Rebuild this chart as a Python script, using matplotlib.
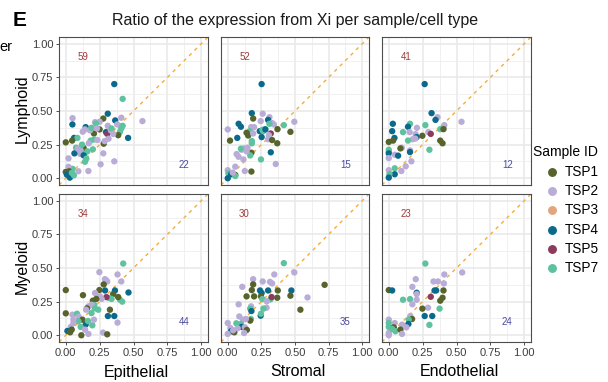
import numpy as np
import matplotlib
matplotlib.use("Agg")
import matplotlib.pyplot as plt

plt.rcParams['font.family'] = ['Liberation Sans', 'DejaVu Sans']

# --- data ---
sample_names = ['TSP1', 'TSP2', 'TSP3', 'TSP4', 'TSP5', 'TSP7']
sample_colors = ['#56632b', '#b9add7', '#e3a57b', '#0b6a8b', '#8d3b5c', '#5ec29f']

col_names = ['Epithelial', 'Stromal', 'Endothelial']
row_names = ['Lymphoid', 'Myeloid']
n_above = [[59, 52, 41], [34, 30, 23]]
n_below = [[22, 15, 12], [44, 35, 24]]

# Lymphoid / Epithelial
lym_epi_x = [0.358, 0.42, 0.31, 0.277, 0.05, 0.049, 0.147, 0.365, 0.41, 0.566, 0.216, 0.25, 0.223,
             0.31, 0.38, 0.42, 0.41, 0.40, 0.387, 0.46, 0.297, 0.306, 0.316, 0.333, 0.338, 0.25, 0.208,
             0.179, 0.19, 0.125, 0.142, 0.061, 0.086, 0.047, 0.0, 0.184, 0.21, 0.233, 0.28, 0.287, 0.076,
             0.096, 0.132, 0.11, 0.16, 0.2, 0.108, 0.064, 0.137, 0.132, 0.152, 0.142, 0.02, 0.277, 0.358,
             0.257, 0.167, 0.05, 0.02, 0.0, 0.025, 0.03, 0.06, 0.093, 0.008, 0.045, 0.09, 0.23, 0.35,
             0.12, 0.17]
lym_epi_y = [0.70, 0.59, 0.48, 0.444, 0.447, 0.40, 0.38, 0.43, 0.45, 0.425, 0.417, 0.42, 0.407,
             0.39, 0.40, 0.39, 0.37, 0.345, 0.32, 0.30, 0.343, 0.33, 0.294, 0.356, 0.37, 0.363, 0.333,
             0.356, 0.375, 0.346, 0.363, 0.30, 0.30, 0.28, 0.267, 0.28, 0.289, 0.284, 0.257, 0.276, 0.227,
             0.22, 0.225, 0.207, 0.20, 0.215, 0.18, 0.185, 0.18, 0.17, 0.146, 0.123, 0.148, 0.185, 0.126,
             0.104, 0.054, 0.07, 0.085, 0.047, 0.052, 0.005, 0.022, 0.052, 0.027, 0.04, 0.22, 0.37, 0.33,
             0.25, 0.26]
lym_epi_id = [4, 7, 4, 1, 2, 4, 4, 4, 2, 2, 2, 2, 7,
              2, 2, 7, 7, 7, 1, 4, 4, 5, 2, 2, 7, 1, 1,
              2, 7, 2, 2, 4, 7, 1, 1, 7, 7, 2, 1, 2, 7,
              7, 1, 2, 7, 7, 2, 4, 7, 4, 7, 7, 2, 2, 2,
              2, 2, 7, 2, 1, 1, 4, 7, 2, 4, 7, 2, 2, 2,
              7, 2]

# Lymphoid / Stromal
lym_str_x = [0.252, 0.179, 0.26, 0.189, 0.31, 0.30, 0.245, 0.343, 0.33, 0.31, 0.081, 0.098, 0.0,
             0.417, 0.495, 0.37, 0.466, 0.174, 0.196, 0.164, 0.14, 0.152, 0.189, 0.238, 0.264, 0.277,
             0.258, 0.28, 0.32, 0.306, 0.252, 0.30, 0.33, 0.368, 0.071, 0.017, 0.179, 0.179, 0.122,
             0.103, 0.098, 0.066, 0.08, 0.117, 0.176, 0.167, 0.147, 0.32, 0.247, 0.357, 0.056, 0.0,
             0.005, 0.025, 0.056, 0.0, 0.056, 0.127, 0.176, 0.037, 0.14]
lym_str_y = [0.70, 0.484, 0.48, 0.444, 0.454, 0.434, 0.425, 0.40, 0.41, 0.405, 0.405, 0.383, 0.363,
             0.395, 0.42, 0.365, 0.345, 0.38, 0.38, 0.35, 0.338, 0.318, 0.333, 0.35, 0.35, 0.365,
             0.36, 0.363, 0.333, 0.32, 0.306, 0.29, 0.284, 0.26, 0.30, 0.28, 0.277, 0.26, 0.222,
             0.212, 0.22, 0.18, 0.16, 0.14, 0.19, 0.17, 0.227, 0.193, 0.14, 0.106, 0.086, 0.06,
             0.037, 0.03, 0.025, 0.0, 0.017, 0.054, 0.05, 0.042, 0.20]
lym_str_id = [4, 4, 2, 1, 2, 4, 2, 2, 2, 7, 4, 4, 2,
              7, 2, 1, 1, 2, 2, 7, 1, 1, 2, 4, 7, 7,
              7, 4, 5, 2, 4, 2, 1, 1, 4, 1, 7, 7, 2,
              2, 7, 2, 2, 2, 1, 7, 2, 4, 7, 2, 2, 2,
              7, 4, 1, 4, 7, 2, 1, 2, 2]

# Lymphoid / Endothelial
lym_end_x = [0.265, 0.316, 0.36, 0.345, 0.03, 0.157, 0.142, 0.208, 0.025, 0.105, 0.154, 0.198, 0.292,
             0.31, 0.27, 0.41, 0.405, 0.38, 0.404, 0.537, 0.248, 0.206, 0.176, 0.196, 0.142, 0.042,
             0.032, 0.0, 0.38, 0.397, 0.30, 0.096, 0.086, 0.157, 0.157, 0.0, 0.0, 0.0, 0.0, 0.044,
             0.069, 0.167, 0.125, 0.044, 0.093, 0.044, 0.0, 0.005, 0.0]
lym_end_y = [0.70, 0.484, 0.454, 0.434, 0.405, 0.405, 0.383, 0.375, 0.35, 0.343, 0.343, 0.328, 0.343,
             0.33, 0.395, 0.395, 0.383, 0.365, 0.365, 0.42, 0.316, 0.306, 0.29, 0.295, 0.28, 0.30,
             0.28, 0.27, 0.28, 0.26, 0.212, 0.227, 0.222, 0.207, 0.195, 0.212, 0.198, 0.185, 0.15, 0.175,
             0.168, 0.126, 0.089, 0.074, 0.054, 0.03, 0.06, 0.03, 0.005]
lym_end_id = [4, 4, 2, 4, 4, 7, 4, 2, 4, 7, 2, 2, 2,
              5, 7, 2, 2, 7, 1, 2, 1, 4, 2, 2, 7, 4,
              1, 1, 1, 1, 7, 2, 1, 2, 4, 7, 7, 4, 2, 2,
              4, 2, 2, 7, 2, 4, 2, 7, 4]

# Myeloid / Epithelial
mye_epi_x = [0.424, 0.248, 0.382, 0.289, 0.306, 0.296, 0.41, 0.28, 0.363, 0.29, 0.463, 0.0, 0.248,
             0.216, 0.35, 0.127, 0.2, 0.252, 0.318, 0.338, 0.4, 0.417, 0.387, 0.30, 0.265, 0.225,
             0.21, 0.167, 0.19, 0.157, 0.15, 0.216, 0.24, 0.19, 0.326, 0.311, 0.358, 0.382, 0.0,
             0.049, 0.083, 0.096, 0.123, 0.093, 0.147, 0.164, 0.196, 0.208, 0.11, 0.056, 0.037,
             0.044, 0.012, 0.142, 0.115, 0.167, 0.275, 0.306, 0.032, 0.056]
mye_epi_y = [0.533, 0.469, 0.452, 0.417, 0.40, 0.41, 0.40, 0.378, 0.333, 0.333, 0.318, 0.336, 0.336,
             0.314, 0.306, 0.298, 0.257, 0.29, 0.277, 0.27, 0.264, 0.25, 0.284, 0.284, 0.27, 0.27,
             0.225, 0.215, 0.227, 0.2, 0.19, 0.2, 0.19, 0.165, 0.19, 0.143, 0.143, 0.094, 0.163,
             0.153, 0.16, 0.138, 0.116, 0.104, 0.08, 0.106, 0.074, 0.116, 0.062, 0.116, 0.062,
             0.042, 0.032, 0.042, 0.0, 0.01, 0.02, 0.007, 0.022, 0.09]
mye_epi_id = [7, 2, 2, 2, 2, 2, 2, 1, 4, 4, 4, 1, 1,
              2, 1, 1, 1, 2, 7, 7, 7, 7, 1, 5, 2, 1,
              7, 2, 2, 1, 2, 7, 7, 7, 1, 4, 4, 2, 1,
              2, 7, 2, 1, 7, 4, 7, 7, 2, 7, 2, 2,
              1, 4, 2, 1, 2, 2, 1, 1, 2]

# Myeloid / Stromal
mye_str_x = [0.417, 0.495, 0.346, 0.189, 0.26, 0.314, 0.33, 0.189, 0.72, 0.108, 0.179, 0.24, 0.252,
             0.30, 0.372, 0.473, 0.14, 0.196, 0.247, 0.368, 0.466, 0.257, 0.318, 0.326, 0.593, 0.29,
             0.54, 0.081, 0.174, 0.289, 0.167, 0.176, 0.265, 0.245, 0.247, 0.086, 0.172, 0.167,
             0.113, 0.135, 0.064, 0.0, 0.098, 0.103, 0.127, 0.02, 0.025, 0.049, 0.142, 0.122, 0.0,
             0.04, 0.074]
mye_str_y = [0.536, 0.467, 0.452, 0.417, 0.40, 0.397, 0.385, 0.378, 0.375, 0.36, 0.336, 0.333, 0.314,
             0.333, 0.333, 0.333, 0.289, 0.289, 0.289, 0.279, 0.294, 0.269, 0.267, 0.284, 0.281, 0.252,
             0.19, 0.23, 0.215, 0.205, 0.198, 0.18, 0.198, 0.146, 0.16, 0.14, 0.121, 0.109,
             0.116, 0.121, 0.089, 0.091, 0.084, 0.062, 0.059, 0.054, 0.03, 0.022, 0.04, 0.017, 0.01,
             0.037, 0.052]
mye_str_id = [7, 2, 2, 2, 2, 2, 2, 1, 1, 2, 1, 4, 4,
              4, 1, 4, 1, 1, 1, 1, 1, 7, 7, 5, 2, 2,
              1, 2, 2, 2, 7, 4, 7, 4, 7, 2, 7, 1,
              2, 2, 7, 2, 7, 4, 2, 2, 4, 1, 1, 2, 2,
              2, 2]

# Myeloid / Endothelial
mye_end_x = [0.27, 0.542, 0.41, 0.199, 0.33, 0.363, 0.407, 0.174, 0.0, 0.025, 0.206, 0.338, 0.35,
             0.404, 0.31, 0.206, 0.397, 0.38, 0.105, 0.157, 0.206, 0.174, 0.29, 0.248, 0.375,
             0.265, 0.321, 0.30, 0.159, 0.172, 0.147, 0.0, 0.0, 0.044, 0.145, 0.098, 0.0, 0.037,
             0.13, 0.049, 0.086, 0.0, 0.098, 0.0, 0.025]
mye_end_y = [0.533, 0.467, 0.452, 0.417, 0.40, 0.40, 0.385, 0.36, 0.336, 0.333, 0.316, 0.333, 0.333,
             0.333, 0.286, 0.306, 0.279, 0.257, 0.264, 0.269, 0.264, 0.23, 0.205, 0.198, 0.198,
             0.143, 0.143, 0.077, 0.143, 0.121, 0.116, 0.116, 0.091, 0.091, 0.084, 0.079, 0.062, 0.059,
             0.059, 0.03, 0.042, 0.017, 0.01, 0.0, 0.047]
mye_end_id = [7, 2, 2, 2, 2, 2, 2, 2, 1, 4, 4, 4, 4,
              1, 5, 2, 1, 1, 7, 7, 2, 2, 2, 1, 7,
              4, 4, 7, 2, 1, 7, 2, 7, 2, 4, 2, 7, 1,
              2, 7, 1, 2, 2, 2, 7]

panels = [[(lym_epi_x, lym_epi_y, lym_epi_id), (lym_str_x, lym_str_y, lym_str_id),
           (lym_end_x, lym_end_y, lym_end_id)],
          [(mye_epi_x, mye_epi_y, mye_epi_id), (mye_str_x, mye_str_y, mye_str_id),
           (mye_end_x, mye_end_y, mye_end_id)]]

# --- figure ---
W, H = 608, 382
fig = plt.figure(figsize=(W / 100, H / 100), dpi=100)


def px_text(x, y, s, **kw):
    fig.text(x / W, 1 - y / H, s, **kw)


col_px = [(59, 208), (221, 369), (382, 531)]
row_px = [(37, 185), (194, 342)]
color_of = {int(n[3:]): c for n, c in zip(sample_names, sample_colors)}

ticks = [0, 0.25, 0.5, 0.75, 1.0]
minor = [0.125, 0.375, 0.625, 0.875]

for r, (y0, y1) in enumerate(row_px):
    for c, (x0, x1) in enumerate(col_px):
        ax = fig.add_axes([x0 / W, 1 - y1 / H, (x1 - x0) / W, (y1 - y0) / H])
        ax.set_xlim(-0.05, 1.05)
        ax.set_ylim(-0.05, 1.05)
        ax.set_xticks(ticks)
        ax.set_yticks(ticks)
        ax.set_xticks(minor, minor=True)
        ax.set_yticks(minor, minor=True)
        ax.grid(which='major', color='#e8e8e8', lw=1.1, zorder=0)
        ax.grid(which='minor', color='#eeeeee', lw=0.6, zorder=0)
        ax.set_axisbelow(True)
        for sp in ax.spines.values():
            sp.set_color('#4d4d4d')
            sp.set_linewidth(0.8)
        ax.tick_params(which='minor', length=0)
        ax.tick_params(which='major', length=2.5, width=0.6, color='#333333',
                       labelsize=8, labelcolor='#3d3d3d', pad=1.5)
        if c == 0:
            ax.set_yticklabels(['0.00', '0.25', '0.50', '0.75', '1.00'])
        else:
            ax.tick_params(axis='y', left=False, labelleft=False)
        if r == 1:
            ax.set_xticklabels(['0.00', '0.25', '0.50', '0.75', '1.00'])
        else:
            ax.tick_params(axis='x', bottom=False, labelbottom=False)

        ax.axline((0, 0), (1, 1), color='#f5ab3c', lw=1.0, ls=(0, (2.5, 3)), zorder=1)

        xs, ys, ids = panels[r][c]
        cols = [color_of[i] for i in ids]
        ax.scatter(xs, ys, c=cols, s=21, linewidths=0, zorder=2)

        ax.text(0.125, 0.9, str(n_above[r][c]), color='#9c3a3a', fontsize=7,
                ha='center', va='center', zorder=3)
        ax.text(0.875, 0.1, str(n_below[r][c]), color='#4a4a9e', fontsize=7,
                ha='center', va='center', zorder=3)

# labels
for (x0, x1), name in zip(col_px, col_names):
    px_text((x0 + x1) / 2 + 3, 372, name, fontsize=11.5, ha='center', va='center', color='black')
for (y0, y1), name in zip(row_px, row_names):
    px_text(22, (y0 + y1) / 2 - 2, name, fontsize=11.5, ha='center', va='center',
            rotation=90, color='black')

px_text(295, 20, 'Ratio of the expression from Xi per sample/cell type', fontsize=11.5,
        ha='center', va='center', color='#1a1a1a')
px_text(20, 20, 'E', fontsize=15, fontweight='bold', ha='center', va='center')
px_text(-1, 47, 'er', fontsize=10.5, ha='left', va='center')

# legend
px_text(533, 152, 'Sample ID', fontsize=10, ha='left', va='center')
for k, (name, colr) in enumerate(zip(sample_names, sample_colors)):
    yy = 172 + k * 19.2
    fig.lines.append(plt.Line2D([552 / W], [1 - yy / H], marker='o', ms=5.4, color=colr,
                                lw=0, transform=fig.transFigure))
    px_text(565, yy, name, fontsize=9.8, ha='left', va='center')

fig.savefig('out.png', dpi=100)
